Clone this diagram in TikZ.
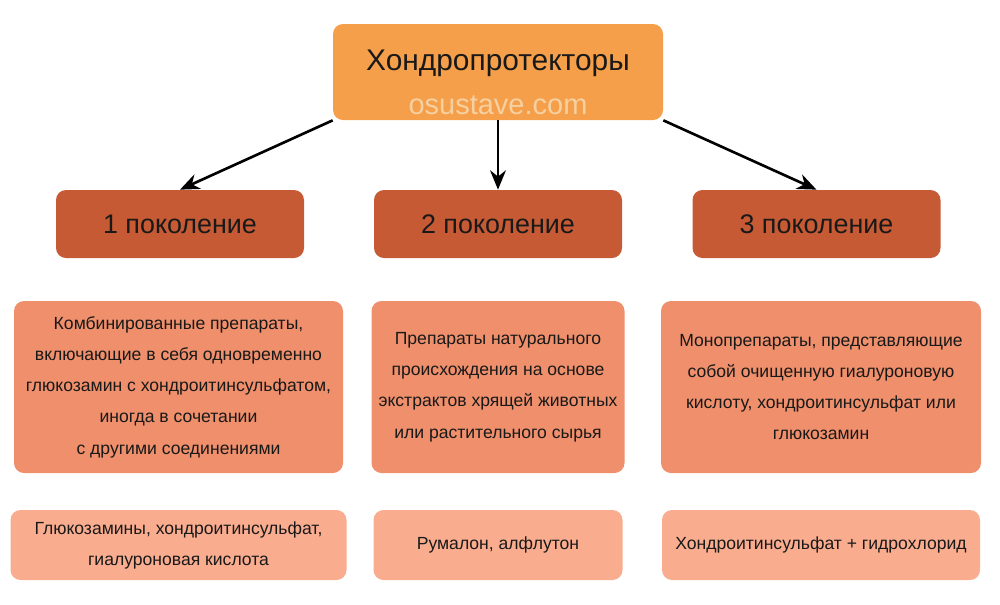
\documentclass[tikz,border=0pt]{standalone}
\usepackage{fontspec}
\setmainfont{Liberation Sans}
\usetikzlibrary{arrows, arrows.meta}
\definecolor{topfill}{RGB}{245,159,74}
\definecolor{genfill}{RGB}{198,90,52}
\definecolor{descfill}{RGB}{239,143,107}
\definecolor{listfill}{RGB}{250,172,143}
\definecolor{markfill}{RGB}{245,208,160}
\tikzstyle{root} = [rectangle, rounded corners=0.2cm, minimum width=6.6cm, minimum height=1.92cm, align=center, fill=topfill, inner sep=0pt]
\tikzstyle{gen} = [rectangle, rounded corners=0.2cm, minimum width=4.96cm, minimum height=1.36cm, text centered, fill=genfill, font=\fontsize{15.3}{18}\selectfont]
\tikzstyle{desc} = [rectangle, rounded corners=0.2cm, minimum height=3.44cm, align=center, fill=descfill, font=\fontsize{10}{17.8}\selectfont, inner sep=0pt]
\tikzstyle{list} = [rectangle, rounded corners=0.2cm, minimum height=1.4cm, align=center, fill=listfill, font=\fontsize{10}{17.6}\selectfont, inner sep=0pt]
\tikzstyle{arrow} = [line width=1.5pt,->,>={Stealth[length=11pt,width=9pt]}]

\begin{document}
\begin{tikzpicture}[node distance=2cm, text=black!90]
    \useasboundingbox (0,0) rectangle (20,-12.08);

    \node (top) [root] at (9.96,-1.44) {\fontsize{17}{20}\selectfont\rule{0pt}{0.82cm}Хондропротекторы\\[0.34cm]
      {\fontsize{16.5}{20}\selectfont\color{markfill}osustave.com}};

    \node (gen1) [gen] at (3.6,-4.48) {1 поколение};
    \node (gen2) [gen] at (9.96,-4.48) {2 поколение};
    \node (gen3) [gen] at (16.33,-4.48) {3 поколение};

    \node (desc1) [desc, minimum width=6.58cm, below of=gen1, yshift=-1.26cm, xshift=-0.03cm] {Комбинированные препараты,\\
      включающие в себя одновременно\\глюкозамин с хондроитинсульфатом,\\иногда в сочетании\\с другими соединениями};
    \node (desc2) [desc, minimum width=5.06cm, below of=gen2, yshift=-1.26cm] {Препараты натурального\\
      происхождения на основе\\экстрактов хрящей животных\\или растительного сырья};
    \node (desc3) [desc, minimum width=6.4cm, below of=gen3, yshift=-1.26cm, xshift=0.09cm] {Монопрепараты, представляющие\\
      собой очищенную гиалуроновую\\кислоту, хондроитинсульфат или\\глюкозамин};

    \node (list1) [list, minimum width=6.72cm, below of=desc1, yshift=-1.16cm] {Глюкозамины, хондроитинсульфат,\\гиалуроновая кислота};
    \node (list2) [list, minimum width=4.98cm, below of=desc2, yshift=-1.16cm] {Румалон, алфлутон};
    \node (list3) [list, minimum width=6.36cm, below of=desc3, yshift=-1.16cm] {Хондроитинсульфат + гидрохлорид};

    \draw [arrow] (top.south west) -- (gen1.north);
    \draw [arrow] (top.south) -- (gen2.north);
    \draw [arrow] (top.south east) -- (gen3.north);

  \end{tikzpicture}
\end{document}
